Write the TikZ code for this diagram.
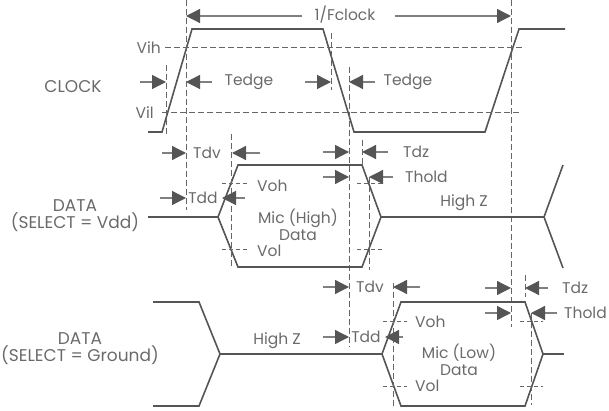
\documentclass[tikz,border=0pt]{standalone}
\usepackage{fontspec}
\setmainfont{Poppins}
\usetikzlibrary{arrows.meta}
\definecolor{wavec}{HTML}{555555}
\definecolor{guidec}{HTML}{666666}
\definecolor{shaftc}{HTML}{808080}
\definecolor{headc}{HTML}{555555}
\definecolor{textc}{HTML}{6A6A6A}
\begin{document}
\begin{tikzpicture}[x=1pt,y=-1pt,
  wave/.style={draw=wavec, line width=1.6pt, line join=miter},
  guide/.style={draw=guidec, line width=1pt, dash pattern=on 6pt off 3pt},
  tick/.style={draw=guidec, line width=1pt, dash pattern=on 4pt off 3pt},
  dim/.style={draw=shaftc, line width=1.3pt, -{Triangle[length=14pt,width=14pt,color=headc,fill=headc]}},
  lbl/.style={text=textc, font=\fontsize{15.5}{17}\selectfont, inner sep=0pt, align=center},
  side/.style={lbl, font=\fontsize{17}{17}\selectfont}]
\useasboundingbox (0,0) rectangle (609,411);

% ---------------- CLOCK ----------------
\draw[wave] (148,132) -- (162,132) -- (192,29) -- (323,29) -- (354,132) -- (485,132) -- (519,29) -- (565,29);
\draw[guide] (165,48) -- (525,48);
\draw[guide] (162,113) -- (520,113);
\draw[guide] (166,65) -- (166,136);
\draw[guide] (186,0) -- (186,210);
\draw[guide] (331,33) -- (331,90);
\draw[guide] (349,67) -- (349,347);
\draw[guide] (511,0) -- (511,327);

\node[lbl] (fclk) at (345,15) {1/Fclock};
\coordinate (f1) at (302,16); \coordinate (f1t) at (186,16);
\coordinate (f2) at (395,16); \coordinate (f2t) at (511,16);
\draw[dim] (f1) -- (f1t);
\draw[dim] (f2) -- (f2t);

\node[lbl] (te1) at (249,82) {Tedge};
\node[lbl] (te2) at (408,82) {Tedge};
\draw[dim] (140,82) -- (166,82);
\draw[dim] (212,82) -- (186,82);
\draw[dim] (305,82) -- (331,82);
\draw[dim] (375,82) -- (349,82);

\node[side] (clk) at (73,87) {CLOCK};
\node[lbl, anchor=east] (vih) at (161,48) {Vih};
\node[lbl, anchor=east] (vil) at (154,113) {Vil};

% ---------------- DATA (SELECT = Vdd) ----------------
\draw[wave] (148,217) -- (218,217);
\draw[wave] (218,217) -- (238,165) -- (362,165) -- (381,217) -- (362,267) -- (238,267) -- cycle;
\draw[wave] (381,217) -- (544,217);
\draw[wave] (563,165) -- (544,217) -- (563,268);

\draw[tick] (222,184) -- (247,184);
\draw[tick] (222,249) -- (247,249);
\draw[tick] (357,184) -- (382,184);
\draw[tick] (357,249) -- (382,249);
\draw[guide] (231,134) -- (231,268);
\draw[guide] (362,140) -- (362,165);
\draw[guide] (369,177) -- (369,270);

\node[lbl] (tdv1) at (207,153) {Tdv};
\draw[dim] (162,153) -- (186,153);
\draw[dim] (260,153) -- (232,153);
\node[lbl] (tdd1) at (203,198) {Tdd};
\draw[dim] (160,198) -- (186,198);
\draw[dim] (245,198) -- (222,198);
\node[lbl, anchor=west] (tdz1) at (403,152) {Tdz};
\draw[dim] (323,152) -- (349,152);
\draw[dim] (388,152) -- (362,152);
\node[lbl, anchor=west] (th1) at (405,177) {Thold};
\draw[dim] (323,177) -- (349,177);
\draw[dim] (393,177) -- (369,177);

\node[lbl, anchor=west] (voh1) at (257,186) {Voh};
\node[lbl, anchor=west] (vol1) at (257,251) {Vol};
\node[lbl] (mich) at (298,225) {Mic (High)\\Data};
\node[lbl] (hz1) at (464,203) {High Z};
\node[side] (d1) at (75,216) {DATA\\(SELECT = Vdd)};

% ---------------- DATA (SELECT = Ground) ----------------
\draw[wave] (153,302) -- (199,302) -- (220,354) -- (199,406) -- (153,406);
\draw[wave] (220,354) -- (382,354);
\draw[wave] (382,354) -- (401,302) -- (525,302) -- (543,354) -- (525,406) -- (401,406) -- cycle;
\draw[wave] (543,354) -- (564,354);

\draw[tick] (383,321) -- (407,321);
\draw[tick] (383,386) -- (407,386);
\draw[tick] (520,321) -- (543,321);
\draw[tick] (520,386) -- (543,386);
\draw[guide] (393,283) -- (393,407);
\draw[guide] (525,275) -- (525,297);
\draw[guide] (531,313) -- (531,405);

\node[lbl] (tdv2) at (370,287) {Tdv};
\draw[dim] (323,287) -- (349,287);
\draw[dim] (420,287) -- (393,287);
\node[lbl] (tdd2) at (366,337) {Tdd};
\draw[dim] (323,337) -- (349,337);
\draw[dim] (403,337) -- (385,337);
\node[lbl, anchor=west] (tdz2) at (562,288) {Tdz};
\draw[dim] (485,288) -- (511,288);
\draw[dim] (548,288) -- (525,288);
\node[lbl, anchor=west] (th2) at (564,313) {Thold};
\draw[dim] (485,313) -- (511,313);
\draw[dim] (557,313) -- (531,313);

\node[lbl, anchor=west] (voh2) at (415,322) {Voh};
\node[lbl, anchor=west] (vol2) at (415,386) {Vol};
\node[lbl] (micl) at (459,360) {Mic (Low)\\Data};
\node[lbl] (hz2) at (277,341) {High Z};
\node[side] (d2) at (80,349) {DATA\\(SELECT = Ground)};
\end{tikzpicture}
\end{document}
